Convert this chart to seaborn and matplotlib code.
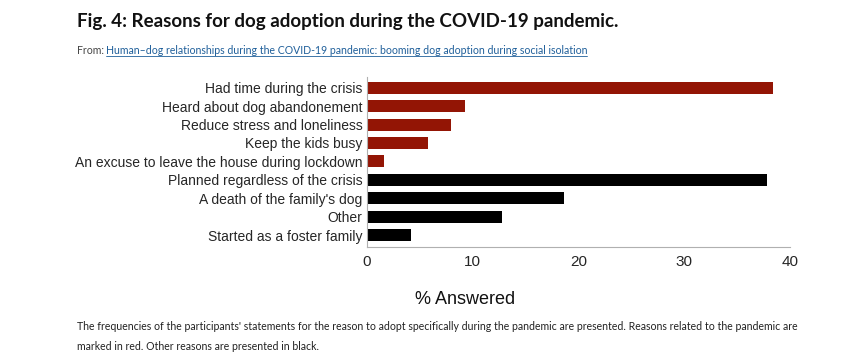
import matplotlib
matplotlib.use("Agg")
import matplotlib.pyplot as plt
import seaborn as sns
import pandas as pd

reasons = [
    "Had time during the crisis",
    "Heard about dog abandonement",
    "Reduce stress and loneliness",
    "Keep the kids busy",
    "An excuse to leave the house during lockdown",
    "Planned regardless of the crisis",
    "A death of the family's dog",
    "Other",
    "Started as a foster family",
]
percent = [38.4, 9.3, 8.0, 5.8, 1.6, 37.8, 18.6, 12.8, 4.2]
group = ["pandemic"] * 5 + ["other"] * 4
x_ticks = [0, 10, 20, 30, 40]

df = pd.DataFrame({"reason": reasons, "pct": percent, "group": group})

sns.set_theme(style="white")
plt.rcParams["font.family"] = ["Liberation Sans", "DejaVu Sans"]

fig = plt.figure(figsize=(8.5, 3.63), dpi=100)
ax = fig.add_axes([366.7 / 850, 1 - 247 / 363, (790.3 - 366.7) / 850, 170 / 363])

sns.barplot(data=df, y="reason", x="pct", hue="group", order=reasons,
            palette={"pandemic": "#931505", "other": "#000000"},
            dodge=False, width=0.65, legend=False, ax=ax, orient="h",
            linewidth=0, saturation=1)

ax.set_xlim(0, 40)
ax.set_ylim(8.65, -0.58)
ax.set_xticks(x_ticks)
ax.set_xticklabels([str(t) for t in x_ticks], fontsize=11)
ax.tick_params(axis="x", length=4, width=0.8, color="#aaaaaa", pad=2)
ax.tick_params(axis="y", length=0, pad=3, labelsize=10)
for s in ["top", "right"]:
    ax.spines[s].set_visible(False)
for s in ["left", "bottom"]:
    ax.spines[s].set_color("#b0b0b0")
    ax.spines[s].set_linewidth(0.8)
ax.set_ylabel("")
ax.set_xlabel("")

fig.text(465 / 850, 1 - 300 / 363, "% Answered", fontsize=13, ha="center", va="center",
         color="#111111")

fig.text(77 / 850, 1 - 21 / 363, "Fig. 4: Reasons for dog adoption during the COVID-19 pandemic.",
         fontsize=13.5, fontweight="bold", family=["Lato", "DejaVu Sans"],
         va="center", ha="left", color="#111111")
fig.text(77 / 850, 1 - 50 / 363, "From: ", fontsize=7.6, family=["Lato", "DejaVu Sans"],
         va="center", ha="left", color="#444444")
fig.text(106 / 850, 1 - 50 / 363,
         "Human\u2013dog relationships during the COVID-19 pandemic: booming dog adoption during social isolation",
         fontsize=7.6, family=["Lato", "DejaVu Sans"], va="center", ha="left",
         color="#1f5f9a")
fig.add_artist(plt.Line2D([106 / 850, 587 / 850], [1 - 55.5 / 363, 1 - 55.5 / 363],
                          color="#1f5f9a", linewidth=0.6))
fig.text(77 / 850, 1 - 326 / 363,
         "The frequencies of the participants' statements for the reason to adopt specifically during the pandemic are presented. Reasons related to the pandemic are",
         fontsize=7.6, family=["Lato", "DejaVu Sans"], va="center", ha="left", color="#222222")
fig.text(77 / 850, 1 - 346 / 363,
         "marked in red. Other reasons are presented in black.",
         fontsize=7.6, family=["Lato", "DejaVu Sans"], va="center", ha="left", color="#222222")

fig.savefig("out.png", dpi=100, facecolor="white")
